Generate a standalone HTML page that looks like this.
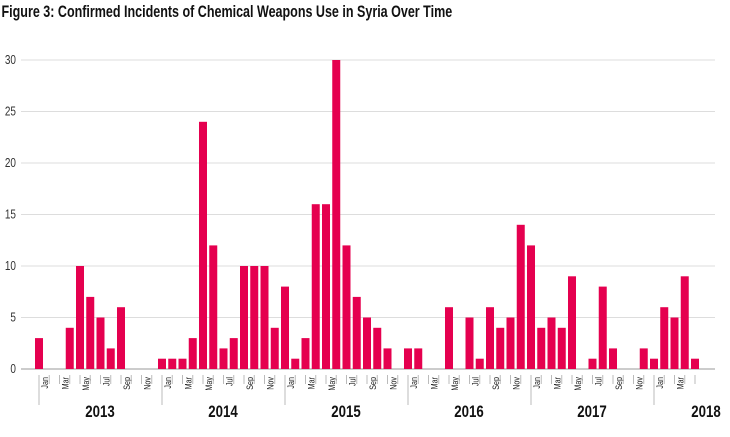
<!DOCTYPE html>
<html><head><meta charset="utf-8"><style>
body{margin:0;background:#fff;width:730px;height:437px;overflow:hidden;font-family:"Liberation Sans",sans-serif}
svg{display:block}
</style></head><body>
<svg width="730" height="437">
<text x="2" y="17" font-size="16.5" font-weight="bold" fill="#111" transform="scale(0.76,1)">Figure 3: Confirmed Incidents of Chemical Weapons Use in Syria Over Time</text>
<g id="grid"></g><g id="bars"></g><g id="xaxis"></g>
</svg>
<script>
const values=[3,0,0,4,10,7,5,2,6,0,0,0,
1,1,1,3,24,12,2,3,10,10,10,4,
8,1,3,16,16,30,12,7,5,4,2,0,
2,2,0,0,6,0,5,1,6,4,5,14,
12,4,5,4,9,0,1,8,2,0,0,2,
1,6,5,9,1];
const yTicks=[0,5,10,15,20,25,30];
const years=["2013","2014","2015","2016","2017","2018"];
const monthLabels=["Jan","Mar","May","Jul","Sep","Nov"];
const NS="http://www.w3.org/2000/svg";
const y0=369, ppu=(369-60)/30, x0=39, step=10.25, bw=8;
const y=v=>y0-v*ppu, x=i=>x0+i*step;
function mk(t,a,p){const e=document.createElementNS(NS,t);for(const k in a)e.setAttribute(k,a[k]);p.appendChild(e);return e;}
const g=document.getElementById('grid'),b=document.getElementById('bars'),xa=document.getElementById('xaxis');
yTicks.forEach(v=>{
 const l=mk('line',{x1:21,x2:715,y1:y(v),y2:y(v),stroke:v===0?'#ccc':'#ddd','stroke-width':v===0?2:1},g);
 
 
 const t=mk('text',{x:16/0.8,y:y(v)+4,'font-size':12.5,'text-anchor':'end',fill:'#333',transform:'scale(0.8,1)'},g);
 t.textContent=v;
 
 
});
values.forEach((v,i)=>{
 if(v<=0)return;
 const r=mk('rect',{x:x(i)-bw/2,y:y(v),width:bw,height:v*ppu,fill:'#e5004f'},b);
 
 
});
for(let i=0;i<values.length;i++){
 const yr=i%12===0;
 const l=mk('line',{x1:x(i),x2:x(i),y1:375,y2:yr?405:384,stroke:'#bbb','stroke-width':1},xa);
 
 
 if(i%2===0 && i+1<values.length){
  const m=monthLabels[(i%12)/2];
  const tx=x(i+1)-1.5, ty=377;
  const t=mk('text',{x:0,y:0,'font-size':9,fill:'#222','text-anchor':'end',transform:`translate(${tx},${ty}) rotate(-90) scale(0.8,1)`},xa);
  t.textContent=m;
  
  
 }
}
years.forEach((yv,k)=>{
 const cx=k<5?x(k*12)+61:706;
 const t=mk('text',{x:cx/0.78,y:417,'font-size':17,'font-weight':'bold','text-anchor':'middle',fill:'#111',transform:'scale(0.78,1)'},xa);
 t.textContent=yv;
 
 
});
</script>
</body></html>
